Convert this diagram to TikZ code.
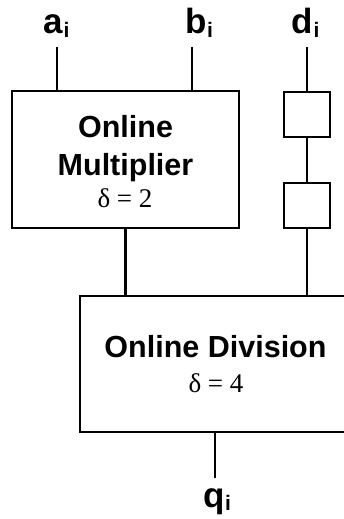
\documentclass[tikz,border=0pt]{standalone}
\usepackage{fontspec}
\setmainfont{Liberation Sans}
\newfontfamily\seriffont{Liberation Serif}
\newcommand{\sublbl}[2]{#1\kern0.5pt\raisebox{-3.5pt}{\fontsize{21}{21}\selectfont #2}}
\begin{document}
\begin{tikzpicture}[x=1pt,y=-1pt,line width=2.3pt,
  blk/.style={draw,rectangle,inner sep=0pt,outer sep=0pt},
  ttl/.style={font=\bfseries\fontsize{30.5}{36}\selectfont,anchor=base,inner sep=0pt},
  dlt/.style={font=\seriffont\fontsize{27}{30}\selectfont,anchor=base,inner sep=0pt},
  lbl/.style={font=\bfseries\fontsize{35}{36}\selectfont,anchor=base,inner sep=0pt}]
\useasboundingbox (0,0) rectangle (344,519);
\clip (0,0) rectangle (344,519);
% blocks
\node[blk,minimum width=227pt,minimum height=137pt] (mult) at (125.5,159.5) {};
\node[blk,minimum width=46pt,minimum height=45pt] (reg1) at (307,114.5) {};
\node[blk,minimum width=46pt,minimum height=45pt] (reg2) at (307,205.5) {};
\node[blk,minimum width=272pt,minimum height=136pt] (div) at (216,364) {};
% texts
\node[ttl] (t1) at (125.5,137) {Online};
\node[ttl] (t2) at (125.5,175) {Multiplier};
\node[dlt] (t3) at (125,207) {δ = 2};
\node[ttl] (t4) at (215.5,357) {Online Division};
\node[dlt] (t5) at (216,392) {δ = 4};
% labels
\node[lbl] (la) at (56.5,34) {\sublbl{a}{i}};
\node[lbl] (lb) at (199,34) {\sublbl{b}{i}};
\node[lbl] (ld) at (305.5,34) {\sublbl{d}{i}};
\node[lbl] (lq) at (217,507) {\sublbl{q}{i}};
% free ends
\coordinate (ain) at (57,47);
\coordinate (bin) at (192,47);
\coordinate (din) at (307,47);
\coordinate (qout) at (215,478);
% connectors
\draw (ain) -- (ain |- mult.north);
\draw (bin) -- (bin |- mult.north);
\draw (din) -- (reg1.north);
\draw (reg1.south) -- (reg2.north);
\draw (reg2.south) -- (reg2.south |- div.north);
\draw (mult.south) -- (mult.south |- div.north);
\draw (qout |- div.south) -- (qout);
\end{tikzpicture}
\end{document}
